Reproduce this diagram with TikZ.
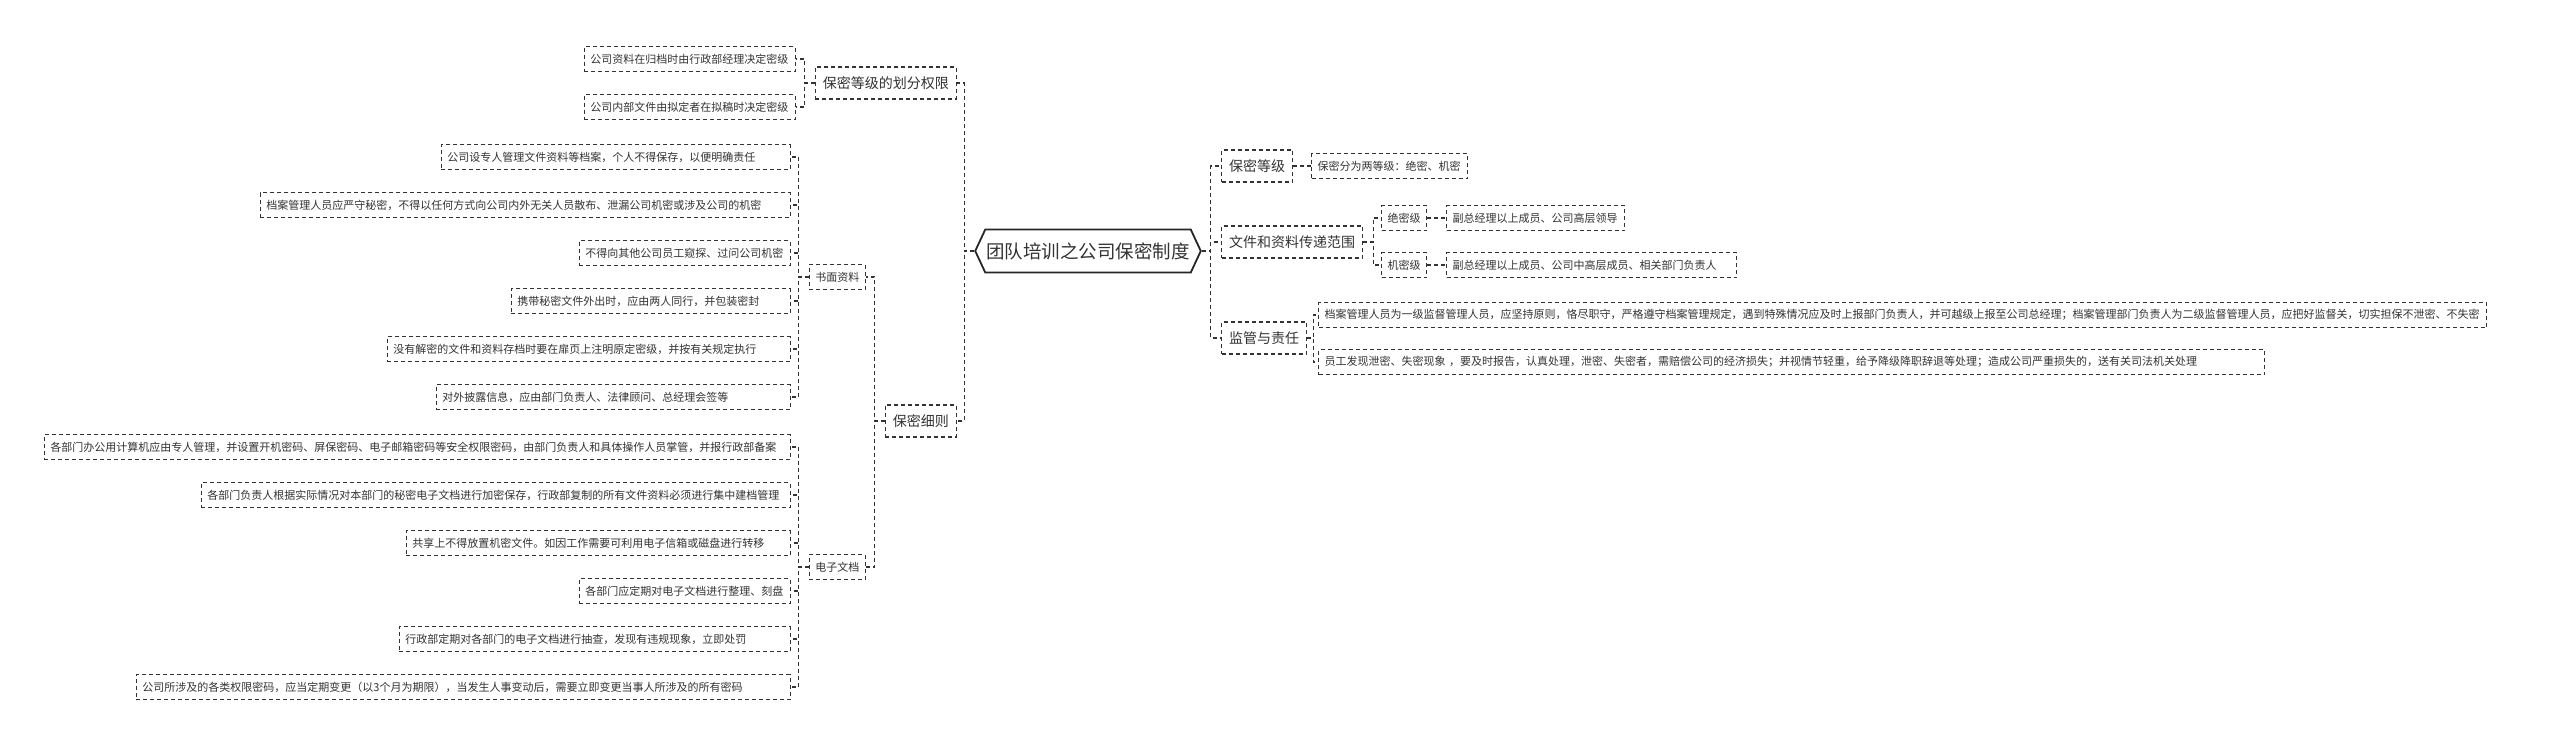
\documentclass[tikz,border=0pt]{standalone}
\usepackage{fontspec}
\setmainfont{Noto Sans CJK SC}
\usetikzlibrary{shapes.symbols,positioning}
\definecolor{ink}{HTML}{333333}

\begin{document}
\begin{tikzpicture}[x=1pt, y=-1pt,
  dsh/.style={draw=ink, line width=1.1pt, dash pattern=on 4pt off 3pt},
  topic/.style={dsh, text=ink, font=\fontsize{14}{16}\selectfont, minimum height=32pt, inner xsep=7.5pt},
  leaf/.style={dsh, text=ink, font=\fontsize{11}{13}\selectfont, minimum height=25pt, inner xsep=6pt, align=left},
  link/.style={dsh}]
\useasboundingbox (0,0) rectangle (2560,747);
\fill[white] (0,0) rectangle (2560,747);
% central topic
\node[signal, signal to=west and east, signal pointer angle=130, draw=black!85, line width=1.8pt, fill=white,
  text=ink, font=\fontsize{18.5}{21}\selectfont, minimum height=43pt, inner xsep=1pt] (root) at (1088,251) {团队培训之公司保密制度};
% left branches
\node[topic, anchor=east] (qx) at (957,83) {保密等级的划分权限};
\node[topic, anchor=east] (xz) at (957,421) {保密细则};
\foreach \n in {qx,xz} \draw[link] (root.west) -- ++(-10,0) |- (\n.east);
\foreach \n/\y/\w/\t in {a1/59/199/{公司资料在归档时由行政部经理决定密级}, a2/107/199/{公司内部文件由拟定者在拟稿时决定密级}} {
  \node[leaf, anchor=east, text width=\w pt] (\n) at (796,\y) {\t};
  \draw[link] (qx.west) -- ++(-10,0) |- (\n.east);
}
\node[leaf, anchor=east] (sm) at (866,277) {书面资料};
\node[leaf, anchor=east] (dz) at (866,567) {电子文档};
\foreach \n in {sm,dz} \draw[link] (xz.west) -- ++(-10,0) |- (\n.east);
% written documents
\foreach \n/\y/\w/\t in {
  b1/157/337/{公司设专人管理文件资料等档案，个人不得保存，以便明确责任},
  b2/205/518/{档案管理人员应严守秘密，不得以任何方式向公司内外无关人员散布、泄漏公司机密或涉及公司的机密},
  b3/253/199/{不得向其他公司员工窥探、过问公司机密},
  b4/301/267/{携带秘密文件外出时，应由两人同行，并包装密封},
  b5/349/391/{没有解密的文件和资料存档时要在扉页上注明原定密级，并按有关规定执行},
  b6/397/342/{对外披露信息，应由部门负责人、法律顾问、总经理会签等}} {
  \node[leaf, anchor=east, text width=\w pt] (\n) at (791,\y) {\t};
  \draw[link] (sm.west) -- ++(-10,0) |- (\n.east);
}
% electronic documents
\foreach \n/\y/\w/\t in {
  c1/447/734/{各部门办公用计算机应由专人管理，并设置开机密码、屏保密码、电子邮箱密码等安全权限密码，由部门负责人和具体操作人员掌管，并报行政部备案},
  c2/495/577/{各部门负责人根据实际情况对本部门的秘密电子文档进行加密保存，行政部复制的所有文件资料必须进行集中建档管理},
  c3/543/372/{共享上不得放置机密文件。如因工作需要可利用电子信箱或磁盘进行转移},
  c4/591/199/{各部门应定期对电子文档进行整理、刻盘},
  c5/639/379/{行政部定期对各部门的电子文档进行抽查，发现有违规现象，立即处罚},
  c6/687/642/{公司所涉及的各类权限密码，应当定期变更（以3个月为期限），当发生人事变动后，需要立即变更当事人所涉及的所有密码}} {
  \node[leaf, anchor=east, text width=\w pt] (\n) at (791,\y) {\t};
  \draw[link] (dz.west) -- ++(-10,0) |- (\n.east);
}
% right branches
\node[topic, anchor=west] (dj) at (1221,166) {保密等级};
\node[topic, anchor=west] (fw) at (1221,242) {文件和资料传递范围};
\node[topic, anchor=west] (jg) at (1221,338) {监管与责任};
\foreach \n in {dj,fw,jg} \draw[link] (root.east) -- ++(9,0) |- (\n.west);
\node[leaf, anchor=west, text width=144pt] (dj1) at (1311,166) {保密分为两等级：绝密、机密};
\draw[link] (dj.east) -- (dj1.west);
\node[leaf, anchor=west] (jm) at (1381,218) {绝密级};
\node[leaf, anchor=west] (km) at (1381,265) {机密级};
\foreach \n in {jm,km} \draw[link] (fw.east) -- ++(10,0) |- (\n.west);
\node[leaf, anchor=west, text width=166pt] (jm1) at (1446,218) {副总经理以上成员、公司高层领导};
\node[leaf, anchor=west, text width=278pt] (km1) at (1446,265) {副总经理以上成员、公司中高层成员、相关部门负责人};
\draw[link] (jm.east) -- (jm1.west);
\draw[link] (km.east) -- (km1.west);
\node[leaf, anchor=west, text width=1156pt] (jg1) at (1318,315) {档案管理人员为一级监督管理人员，应坚持原则，恪尽职守，严格遵守档案管理规定，遇到特殊情况应及时上报部门负责人，并可越级上报至公司总经理；档案管理部门负责人为二级监督管理人员，应把好监督关，切实担保不泄密、不失密};
\node[leaf, anchor=west, text width=934pt] (jg2) at (1318,362) {员工发现泄密、失密现象~，要及时报告，认真处理，泄密、失密者，需赔偿公司的经济损失；并视情节轻重，给予降级降职辞退等处理；造成公司严重损失的，送有关司法机关处理};
\foreach \n in {jg1,jg2} \draw[link] (jg.east) -- ++(6,0) |- (\n.west);
\end{tikzpicture}
\end{document}
